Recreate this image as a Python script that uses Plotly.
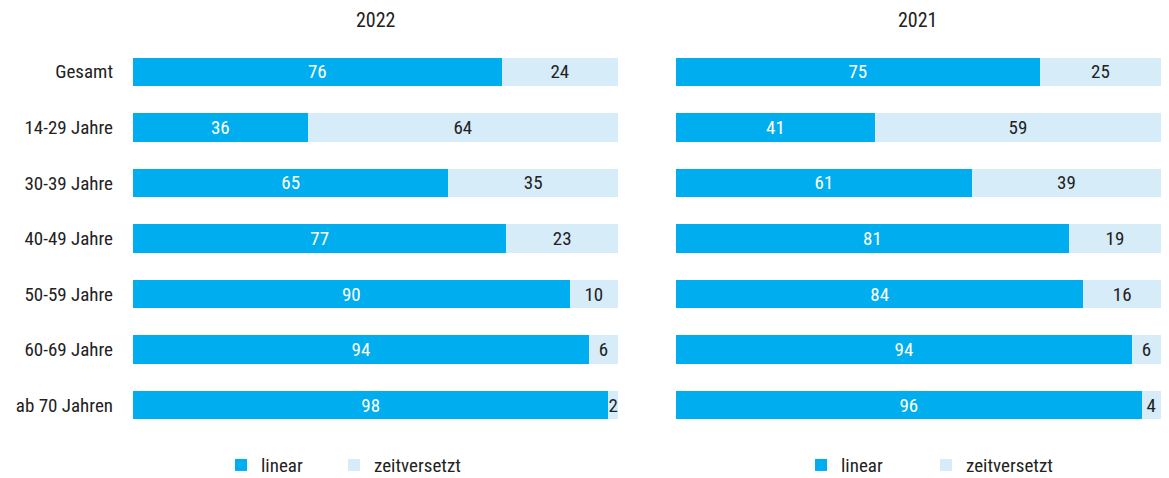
import plotly.graph_objects as go
from plotly.subplots import make_subplots

categories = ["Gesamt", "14-29 Jahre", "30-39 Jahre", "40-49 Jahre", "50-59 Jahre", "60-69 Jahre", "ab 70 Jahren"]
linear_2022 = [76, 36, 65, 77, 90, 94, 98]
zeit_2022 = [24, 64, 35, 23, 10, 6, 2]
linear_2021 = [75, 41, 61, 81, 84, 94, 96]
zeit_2021 = [25, 59, 39, 19, 16, 6, 4]
titles = ["2022", "2021"]

DARK = "#00AEEF"
LIGHT = "#D6ECF9"
FONT = "Liberation Sans Narrow, Roboto Condensed, Roboto, sans-serif"

fig = make_subplots(rows=1, cols=2, shared_yaxes=False, horizontal_spacing=0.0564)

def add(col, lin, zeit, leg_lin, leg_zeit):
    fig.add_trace(go.Bar(y=categories, x=lin, orientation="h", name="linear",
                         marker=dict(color=DARK, line=dict(width=0)),
                         text=[str(v) for v in lin], textposition="inside", textangle=0,
                         insidetextanchor="middle", constraintext="none",
                         textfont=dict(color="white", size=19, family=FONT),
                         legend=leg_lin, showlegend=True,
                         hoverinfo="skip", cliponaxis=False), row=1, col=col)
    fig.add_trace(go.Bar(y=categories, x=zeit, orientation="h", name="zeitversetzt",
                         marker=dict(color=LIGHT, line=dict(width=0)),
                         text=[str(v) for v in zeit], textposition="inside", textangle=0,
                         insidetextanchor="middle", constraintext="none",
                         textfont=dict(color="#222222", size=19, family=FONT),
                         legend=leg_zeit, showlegend=True,
                         hoverinfo="skip", cliponaxis=False), row=1, col=col)

add(1, linear_2022, zeit_2022, "legend", "legend2")
add(2, linear_2021, zeit_2021, "legend3", "legend4")

leg_common = dict(orientation="h", yref="container", y=0.027, yanchor="middle",
                  xanchor="left", itemwidth=30, bgcolor="rgba(0,0,0,0)",
                  font=dict(size=19, family=FONT, color="#222222"))

fig.update_layout(
    showlegend=True,
    barmode="stack", bargap=0.49,
    width=1169, height=478,
    margin=dict(l=133, r=8, t=44, b=45),
    plot_bgcolor="white", paper_bgcolor="white",
    font=dict(family=FONT, size=19, color="#222222"),
    legend=dict(leg_common, x=0.0856),
    legend2=dict(leg_common, x=0.1955),
    legend3=dict(leg_common, x=0.6498),
    legend4=dict(leg_common, x=0.7714),
)
for i in (1, 2):
    fig.update_xaxes(range=[0, 100], visible=False, fixedrange=True, row=1, col=i)
    fig.update_yaxes(autorange="reversed", showgrid=False, showline=False, ticks="",
                     zeroline=False, fixedrange=True, row=1, col=i)
fig.update_yaxes(showticklabels=True, ticklabelstandoff=19,
                 tickfont=dict(size=19, family=FONT, color="#222222"), row=1, col=1)
fig.update_yaxes(showticklabels=False, row=1, col=2)

for i, t in enumerate(titles):
    xref = "x domain" if i == 0 else "x2 domain"
    fig.add_annotation(text=t, x=0.5, xref=xref, y=1 + (44 - 20) / (478 - 44 - 45),
                       yref="paper", yanchor="middle",
                       showarrow=False, font=dict(size=20, family=FONT, color="#222222"))

fig.write_html("out.html", config={"displayModeBar": False},
               post_script="document.body.style.margin='0';document.body.style.overflow='hidden';")
